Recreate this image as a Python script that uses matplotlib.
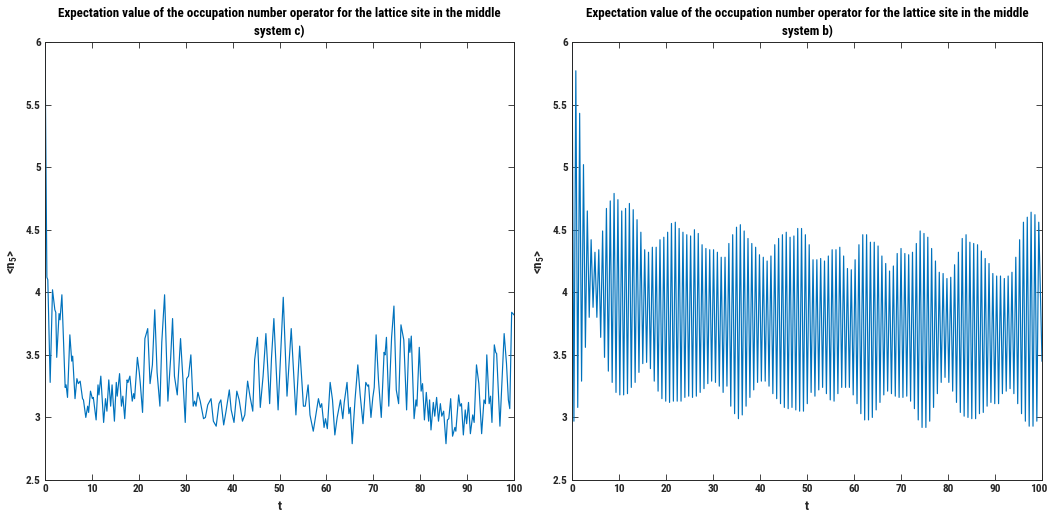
import numpy as np
import matplotlib
matplotlib.use("Agg")
import matplotlib.pyplot as plt
from matplotlib import font_manager
from matplotlib.transforms import ScaledTranslation

# ---------------- data ----------------
# system c): time samples and <n_5> values
t_c = [0, 0.4, 0.6, 1.1, 1.6, 2.1, 2.3, 2.5, 3.0, 3.2, 3.6, 4.3, 4.5, 4.8, 5.3, 5.7, 5.9,
       6.4, 6.8, 7.1, 7.5, 8.0, 8.2, 8.7, 9.1, 9.3, 9.7, 10.1, 10.3, 10.9, 11.3, 11.5, 11.9,
       12.5, 12.9, 13.2, 13.6, 14.0, 14.3, 14.8, 15.2, 15.4, 15.9, 16.3, 16.6, 17.0, 17.5,
       17.7, 18.1, 18.6, 18.9, 19.1, 19.7, 20.1, 20.3, 20.8, 21.3, 21.9, 22.4, 22.9, 23.4,
       23.9, 24.5, 24.9, 25.5, 26.2, 26.8, 27.2, 27.6, 28.2, 28.9, 29.4, 29.9, 30.2, 30.6,
       31.1, 31.6, 31.9, 32.2, 32.6, 33.1, 33.8, 34.2, 34.7, 35.4, 35.9, 36.5, 37.1, 37.5,
       38.1, 38.6, 39.3, 39.7, 40.3, 40.9, 41.4, 42.1, 42.6, 43.2, 43.7, 44.3, 44.7, 45.3,
       45.9, 46.5, 47.1, 47.9, 48.3, 48.8, 49.7, 50.3, 50.8, 51.6, 52.5, 53.5, 54.3, 55.1,
       55.5, 56.1, 56.5, 57.2, 57.8, 58.3, 58.7, 59.0, 59.5, 59.8, 60.2, 60.8, 61.3, 61.8,
       62.3, 63.0, 63.5, 63.8, 64.4, 64.8, 65.1, 65.5, 66.1, 66.7, 67.2, 67.8, 68.4, 68.8,
       69.0, 69.5, 69.9, 70.2, 70.6, 71.1, 71.7, 72.3, 72.5, 72.8, 73.3, 73.9, 74.4, 74.9,
       75.4, 75.9, 76.5, 77.1, 77.6, 77.8, 78.1, 78.7, 79.1, 79.3, 79.8, 80.2, 80.5, 80.9,
       81.3, 81.8, 82.0, 82.3, 82.8, 83.1, 83.5, 83.9, 84.3, 84.6, 85.0, 85.5, 85.8, 86.1,
       86.5, 86.9, 87.4, 87.6, 88.2, 88.5, 88.8, 89.2, 89.6, 89.9, 90.3, 90.7, 91.2, 91.5,
       92.0, 92.5, 93.1, 93.6, 93.9, 94.2, 94.7, 95.0, 95.3, 95.8, 96.1, 96.3, 97.0, 97.9,
       98.4, 98.8, 99.1, 99.5, 100]
n5_c = [6.0, 4.12, 4.10, 3.28, 4.02, 3.86, 3.84, 3.48, 3.83, 3.78, 3.98, 3.24, 3.26, 3.16,
        3.66, 3.45, 3.49, 3.15, 3.31, 3.27, 3.29, 3.15, 3.14, 3.00, 3.09, 3.04, 3.21, 3.15,
        3.16, 2.98, 3.26, 3.18, 3.33, 2.96, 3.15, 3.05, 3.30, 3.09, 3.26, 2.97, 3.28, 3.17,
        3.35, 3.09, 3.17, 2.99, 3.30, 3.28, 3.33, 3.13, 3.19, 3.15, 3.48, 3.36, 3.28, 3.04,
        3.63, 3.71, 3.27, 3.42, 3.86, 3.36, 3.09, 3.60, 3.98, 3.13, 3.48, 3.79, 3.33, 3.18,
        3.63, 3.31, 2.96, 3.31, 3.33, 3.50, 3.09, 3.13, 3.09, 3.20, 3.13, 2.99, 3.00, 3.10,
        3.15, 2.97, 2.93, 3.11, 3.14, 2.94, 3.05, 3.22, 3.06, 2.96, 3.21, 3.14, 2.97, 3.02,
        3.29, 3.17, 3.05, 3.46, 3.64, 3.08, 3.33, 3.67, 3.11, 3.48, 3.79, 3.06, 3.56, 3.96,
        3.17, 3.71, 3.02, 3.57, 3.09, 3.09, 3.26, 3.02, 2.89, 3.03, 3.15, 3.08, 3.11, 2.92,
        2.99, 2.91, 3.28, 3.14, 2.86, 3.00, 3.14, 2.99, 3.12, 3.28, 3.03, 3.08, 2.79, 3.14,
        3.42, 3.18, 2.95, 3.28, 3.25, 3.26, 3.00, 3.16, 3.24, 3.66, 3.30, 3.00, 3.52, 3.50,
        3.64, 3.09, 3.64, 3.89, 3.22, 3.11, 3.74, 3.62, 3.06, 3.63, 3.52, 3.65, 2.99, 3.14,
        3.09, 3.56, 3.21, 3.27, 2.98, 3.20, 2.97, 3.14, 2.90, 3.12, 3.01, 3.16, 2.97, 3.11,
        3.01, 3.05, 2.79, 2.98, 2.99, 3.15, 2.85, 2.92, 2.89, 3.18, 3.09, 3.11, 2.86, 3.06,
        2.95, 3.12, 2.87, 3.02, 2.96, 3.42, 3.27, 2.87, 3.14, 3.11, 3.50, 3.11, 3.17, 2.96,
        3.58, 3.52, 3.51, 2.93, 3.67, 3.43, 3.14, 3.07, 3.84, 3.82]

# system b): fast oscillation, successive maxima and minima of <n_5>
period_b = 0.814
peaks_b = [6.00, 5.77, 5.43, 5.02, 4.65, 4.42, 4.32, 4.34, 4.49, 4.67, 4.73, 4.79, 4.74, 4.65,
           4.67, 4.71, 4.66, 4.58, 4.48, 4.34, 4.32, 4.36, 4.36, 4.42, 4.44, 4.48, 4.55, 4.56,
           4.51, 4.48, 4.46, 4.45, 4.50, 4.47, 4.38, 4.35, 4.34, 4.34, 4.32, 4.28, 4.28, 4.39,
           4.46, 4.52, 4.54, 4.49, 4.43, 4.39, 4.36, 4.30, 4.28, 4.25, 4.29, 4.38, 4.43, 4.46,
           4.48, 4.44, 4.45, 4.51, 4.51, 4.46, 4.38, 4.26, 4.26, 4.27, 4.25, 4.29, 4.34, 4.34,
           4.36, 4.29, 4.19, 4.18, 4.26, 4.38, 4.46, 4.46, 4.40, 4.40, 4.37, 4.29, 4.23,
           4.17, 4.21, 4.31, 4.35, 4.31, 4.30, 4.32, 4.39, 4.49, 4.47, 4.44, 4.35, 4.25, 4.16,
           4.15, 4.11, 4.12, 4.22, 4.32, 4.43, 4.46, 4.40, 4.39, 4.38, 4.33, 4.27, 4.23, 4.15,
           4.13, 4.13, 4.11, 4.13, 4.16, 4.28, 4.42, 4.56, 4.60, 4.64, 4.62, 4.56]
troughs_b = [2.97, 3.08, 3.29, 3.56, 3.80, 3.88, 3.80, 3.64, 3.48, 3.37, 3.28, 3.20, 3.18, 3.18,
             3.19, 3.24, 3.28, 3.36, 3.43, 3.44, 3.39, 3.29, 3.21, 3.15, 3.13, 3.12, 3.13, 3.13,
             3.13, 3.16, 3.17, 3.16, 3.17, 3.20, 3.23, 3.27, 3.29, 3.28, 3.25, 3.20,
             3.25, 3.09, 3.03, 2.99, 3.02, 3.09, 3.16, 3.22, 3.28, 3.29, 3.29, 3.25, 3.19, 3.15,
             3.11, 3.08, 3.07, 3.08, 3.06, 3.05, 3.05, 3.11, 3.20, 3.17, 3.22, 3.24, 3.19, 3.14,
             3.13, 3.19, 3.24, 3.24, 3.24, 3.18, 3.11, 3.03, 2.98, 2.98, 3.00, 3.06, 3.12, 3.18,
             3.21, 3.19, 3.17, 3.16, 3.16, 3.17, 3.13, 3.07, 2.98, 2.92, 2.92, 2.97, 3.08, 3.19,
             3.28, 3.32, 3.28, 3.21, 3.12, 3.04, 3.01, 3.00, 2.99, 2.99, 3.03, 3.04, 3.09, 3.12,
             3.11, 3.11, 3.19, 3.21, 3.23, 3.19, 3.11, 3.03, 2.97, 2.93, 2.93, 2.97]
end_b = 3.45

xticks = [0, 10, 20, 30, 40, 50, 60, 70, 80, 90, 100]
yticks = [2.5, 3, 3.5, 4, 4.5, 5, 5.5, 6]
ytick_labels = ["2.5", "3", "3.5", "4", "4.5", "5", "5.5", "6"]
title_main = "Expectation value of the occupation number operator for the lattice site in the middle"
titles = ["system c)", "system b)"]

# ---------------- styling ----------------
avail = {f.name for f in font_manager.fontManager.ttflist}
fam = next((f for f in ["Liberation Sans Narrow", "Arial Narrow", "Roboto Condensed",
                        "Liberation Sans", "DejaVu Sans"] if f in avail))
plt.rcParams["font.family"] = [fam, "DejaVu Sans"]
plt.rcParams["mathtext.fontset"] = "custom"
plt.rcParams["mathtext.rm"] = fam
plt.rcParams["mathtext.bf"] = fam + ":bold"

line_color = "#0072BD"
ink = "#262626"

# build system b) line by interleaving maxima / minima
tb, vb = [], []
for k, p in enumerate(peaks_b):
    tb.append(k * period_b); vb.append(p)
    if k < len(troughs_b):
        tb.append((k + 0.5) * period_b); vb.append(troughs_b[k])
tb.append(100); vb.append(end_b)

fig = plt.figure(figsize=(10.48, 5.15), dpi=100)
W, H = 1048, 515
rects = [(45, 42, 514, 480), (572, 42, 1042, 480)]
series = [(t_c, n5_c), (tb, vb)]

for i, ((x0, y0, x1, y1), (xs, ys), sub) in enumerate(zip(rects, series, titles)):
    ax = fig.add_axes([x0 / W, 1 - y1 / H, (x1 - x0) / W, (y1 - y0) / H])
    ax.plot(xs, ys, color=line_color, lw=0.85)
    ax.set_xlim(0, 100)
    ax.set_ylim(2.5, 6)
    ax.set_xticks(xticks)
    ax.set_xticklabels([str(v) for v in xticks])
    ax.set_yticks(yticks)
    ax.set_yticklabels(ytick_labels)
    ax.tick_params(direction="in", length=4, width=0.6, colors=ink, labelsize=8.2,
                   top=True, right=True, pad=3)
    for lab in ax.get_xticklabels() + ax.get_yticklabels():
        lab.set_fontweight("bold")
    if i == 1:
        last = ax.get_xticklabels()[-1]
        last.set_transform(last.get_transform() +
                           ScaledTranslation(-2 / 72, 0, fig.dpi_scale_trans))
    for s in ax.spines.values():
        s.set_color(ink)
        s.set_linewidth(0.7)
    ax.set_title(title_main + "\n" + sub, fontsize=9.4, fontweight="bold", color="black",
                 pad=5, linespacing=1.45)
    ax.set_xlabel("t", fontsize=9.5, fontweight="bold", color=ink, labelpad=4)
    ax.set_ylabel(r"<n$_{\mathbf{5}}$>", fontsize=9.5, fontweight="bold", color=ink,
                  labelpad=4)

fig.savefig("out.png", dpi=100, facecolor="white")
